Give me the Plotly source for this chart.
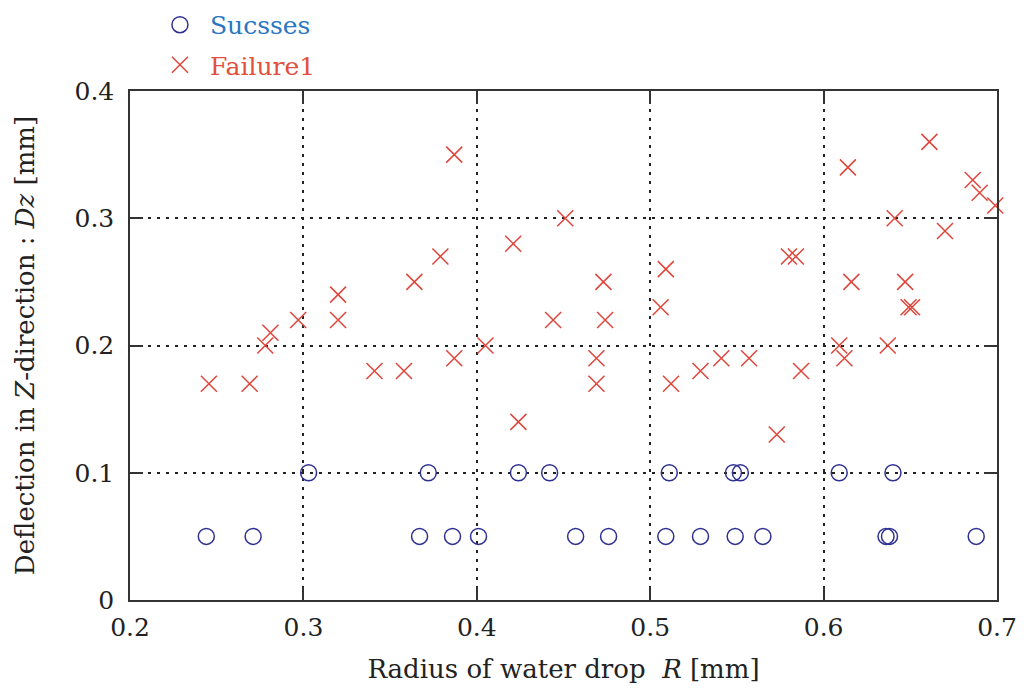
import plotly.graph_objects as go

# Success data (Radius R [mm], Deflection Dz [mm])
success_r = [0.303, 0.372, 0.424, 0.442, 0.511, 0.548, 0.552, 0.609, 0.640,
             0.244, 0.271, 0.367, 0.386, 0.401, 0.457, 0.476, 0.509, 0.529,
             0.549, 0.565, 0.636, 0.638, 0.688]
success_dz = [0.10, 0.10, 0.10, 0.10, 0.10, 0.10, 0.10, 0.10, 0.10,
              0.05, 0.05, 0.05, 0.05, 0.05, 0.05, 0.05, 0.05, 0.05,
              0.05, 0.05, 0.05, 0.05, 0.05]

# Failure data
failure_r = [0.2455, 0.269, 0.278, 0.281, 0.297, 0.320, 0.320, 0.341, 0.358,
             0.364, 0.379, 0.387, 0.387, 0.405, 0.421, 0.424, 0.444, 0.451,
             0.469, 0.469, 0.473, 0.474, 0.506, 0.509, 0.512, 0.529, 0.541,
             0.557, 0.573, 0.580, 0.584, 0.587, 0.609, 0.612, 0.614, 0.616,
             0.637, 0.641, 0.647, 0.649, 0.651, 0.661, 0.670, 0.686, 0.690,
             0.699]
failure_dz = [0.17, 0.17, 0.20, 0.21, 0.22, 0.22, 0.24, 0.18, 0.18,
              0.25, 0.27, 0.35, 0.19, 0.20, 0.28, 0.14, 0.22, 0.30,
              0.19, 0.17, 0.25, 0.22, 0.23, 0.26, 0.17, 0.18, 0.19,
              0.19, 0.13, 0.27, 0.27, 0.18, 0.20, 0.19, 0.34, 0.25,
              0.20, 0.30, 0.25, 0.23, 0.23, 0.36, 0.29, 0.33, 0.32,
              0.31]

x_ticks = [0.2, 0.3, 0.4, 0.5, 0.6, 0.7]
x_ticklabels = ["0.2", "0.3", "0.4", "0.5", "0.6", "0.7"]
y_ticks = [0, 0.1, 0.2, 0.3, 0.4]
y_ticklabels = ["0", "0.1", "0.2", "0.3", "0.4"]

FONT = "DejaVu Serif"
TXT = "#222222"

fig = go.Figure()
fig.add_trace(go.Scatter(
    x=success_r, y=success_dz, mode="markers", name="Sucsses",
    marker=dict(symbol="circle-open", size=16, color="#2e3192",
                line=dict(width=1.5, color="#2e3192")),
    legend="legend", cliponaxis=False,
))
fig.add_trace(go.Scatter(
    x=failure_r, y=failure_dz, mode="markers", name="Failure1",
    marker=dict(symbol="x-thin-open", size=16, color="#e0453a",
                line=dict(width=1.5, color="#e0453a")),
    legend="legend2", cliponaxis=False,
))

axis_common = dict(
    showline=True, linecolor="#333", linewidth=1.5, mirror="ticks",
    ticks="inside", ticklen=13, tickwidth=1.5, tickcolor="#333",
    showgrid=True, gridcolor="#222", griddash="3px,6px", gridwidth=1.5,
    zeroline=False, tickfont=dict(family=FONT, size=25, color=TXT),
)

fig.update_layout(
    width=1026, height=691,
    paper_bgcolor="white", plot_bgcolor="white",
    margin=dict(l=122, r=37, t=83, b=99, autoexpand=False),
    xaxis=dict(range=[0.2, 0.7], tickvals=x_ticks, ticktext=x_ticklabels,
               ticklabelstandoff=4,
               title=dict(text="Radius of water drop  <i>R</i> [mm]",
                          font=dict(family=FONT, size=26, color=TXT),
                          standoff=19),
               **axis_common),
    yaxis=dict(range=[0, 0.4], tickvals=y_ticks, ticktext=y_ticklabels,
               ticklabelstandoff=9,
               title=dict(text="Deflection in <i>Z</i>-direction : <i>Dz</i> [mm]",
                          font=dict(family=FONT, size=26, color=TXT),
                          standoff=32),
               **axis_common),
    legend=dict(x=0.023, y=1.1297, xanchor="left", yanchor="middle",
                itemwidth=50,
                font=dict(family=FONT, size=25, color="#2b76c0"),
                bgcolor="rgba(0,0,0,0)"),
    legend2=dict(x=0.023, y=1.051, xanchor="left", yanchor="middle",
                 itemwidth=50,
                 font=dict(family=FONT, size=25, color="#e0503c"),
                 bgcolor="rgba(0,0,0,0)"),
    showlegend=True,
)

fig.write_html("out.html")
